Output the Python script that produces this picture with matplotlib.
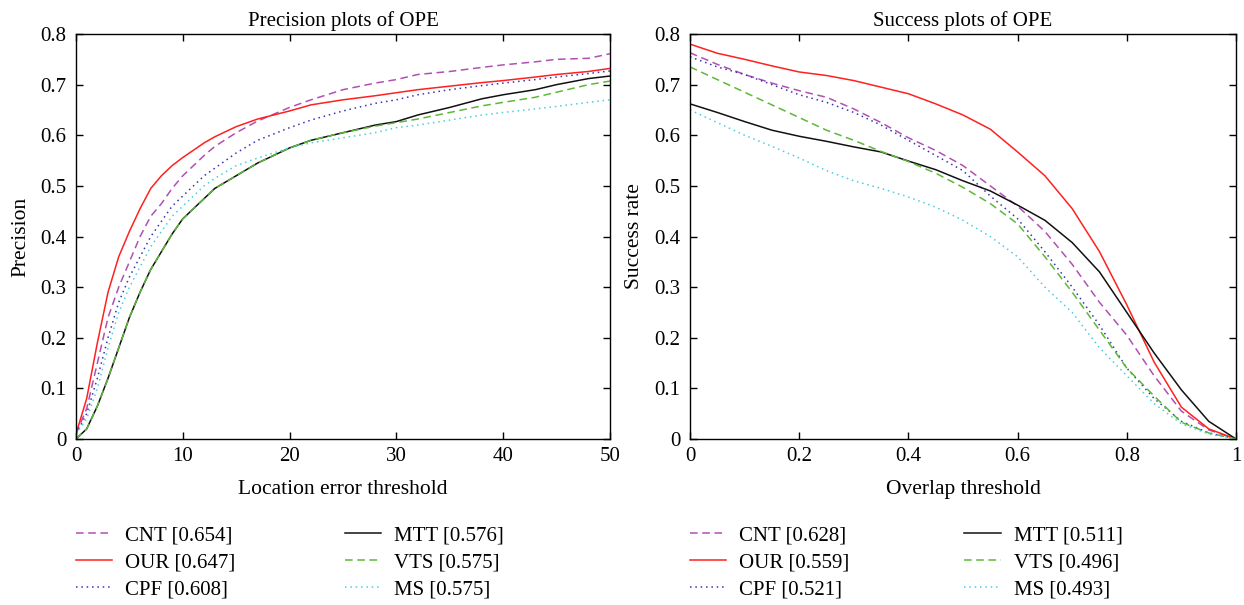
import numpy as np
import matplotlib
matplotlib.use("Agg")
import matplotlib.pyplot as plt

plt.rcParams['font.family'] = ['Liberation Serif', 'DejaVu Serif']
plt.rcParams['mathtext.fontset'] = 'stix'

# ---- precision plot data (location error threshold, px) ----
prec_x = [0, 1, 2, 3, 4, 5, 6, 7, 8, 9, 10, 12, 13, 15, 17, 20, 22, 25, 28, 30, 32, 35, 38, 40, 43, 45, 48, 50]
prec_cnt = [0.01, 0.06, 0.15, 0.24, 0.30, 0.35, 0.40, 0.44, 0.465, 0.495, 0.52, 0.56, 0.578, 0.605, 0.628, 0.655,
            0.67, 0.69, 0.703, 0.71, 0.72, 0.726, 0.734, 0.739, 0.745, 0.75, 0.752, 0.761]
prec_our = [0.01, 0.08, 0.19, 0.29, 0.36, 0.41, 0.455, 0.495, 0.52, 0.54, 0.556, 0.585, 0.597, 0.617, 0.632, 0.648,
            0.66, 0.67, 0.678, 0.684, 0.69, 0.697, 0.704, 0.708, 0.715, 0.72, 0.726, 0.732]
prec_cpf = [0.01, 0.05, 0.12, 0.20, 0.27, 0.32, 0.36, 0.40, 0.43, 0.46, 0.48, 0.52, 0.535, 0.565, 0.59, 0.615,
            0.63, 0.648, 0.663, 0.67, 0.68, 0.69, 0.698, 0.703, 0.71, 0.715, 0.722, 0.727]
prec_mtt = [0.0, 0.02, 0.065, 0.12, 0.18, 0.24, 0.29, 0.335, 0.37, 0.405, 0.435, 0.475, 0.495, 0.52, 0.545, 0.575,
            0.59, 0.605, 0.62, 0.627, 0.64, 0.655, 0.672, 0.68, 0.69, 0.70, 0.712, 0.717]
prec_vts = [0.0, 0.02, 0.065, 0.12, 0.18, 0.24, 0.29, 0.335, 0.37, 0.405, 0.435, 0.475, 0.495, 0.52, 0.545, 0.575,
            0.59, 0.605, 0.618, 0.625, 0.632, 0.645, 0.658, 0.665, 0.675, 0.685, 0.70, 0.707]
prec_ms = [0.01, 0.04, 0.10, 0.18, 0.25, 0.30, 0.34, 0.38, 0.41, 0.44, 0.46, 0.50, 0.515, 0.54, 0.555, 0.575,
           0.585, 0.595, 0.605, 0.615, 0.62, 0.63, 0.64, 0.645, 0.652, 0.657, 0.665, 0.67]

# ---- success plot data (overlap threshold) ----
succ_x = [0, 0.05, 0.1, 0.15, 0.2, 0.25, 0.3, 0.35, 0.4, 0.45, 0.5, 0.55, 0.6, 0.65, 0.7, 0.75, 0.8, 0.85, 0.9, 0.95, 1.0]
succ_cnt = [0.763, 0.74, 0.72, 0.703, 0.688, 0.675, 0.652, 0.625, 0.595, 0.57, 0.54, 0.50, 0.46, 0.41, 0.345,
            0.27, 0.205, 0.125, 0.055, 0.018, 0.0]
succ_our = [0.78, 0.762, 0.75, 0.737, 0.725, 0.718, 0.708, 0.695, 0.682, 0.662, 0.64, 0.612, 0.567, 0.52, 0.455,
            0.37, 0.265, 0.152, 0.063, 0.02, 0.0]
succ_cpf = [0.755, 0.735, 0.72, 0.70, 0.68, 0.665, 0.645, 0.62, 0.59, 0.56, 0.53, 0.48, 0.435, 0.37, 0.30,
            0.225, 0.14, 0.08, 0.035, 0.012, 0.0]
succ_mtt = [0.662, 0.645, 0.627, 0.61, 0.598, 0.588, 0.577, 0.567, 0.549, 0.532, 0.51, 0.49, 0.462, 0.432, 0.388,
            0.33, 0.25, 0.17, 0.097, 0.035, 0.0]
succ_vts = [0.735, 0.71, 0.685, 0.66, 0.635, 0.61, 0.59, 0.568, 0.548, 0.525, 0.497, 0.465, 0.425, 0.36, 0.29,
            0.215, 0.14, 0.085, 0.033, 0.012, 0.0]
succ_ms = [0.65, 0.625, 0.60, 0.578, 0.555, 0.53, 0.51, 0.495, 0.478, 0.458, 0.432, 0.40, 0.36, 0.30, 0.25,
           0.18, 0.125, 0.07, 0.03, 0.01, 0.0]

prec_labels = ['CNT [0.654]', 'OUR [0.647]', 'CPF [0.608]', 'MTT [0.576]', 'VTS [0.575]', 'MS [0.575]']
succ_labels = ['CNT [0.628]', 'OUR [0.559]', 'CPF [0.521]', 'MTT [0.511]', 'VTS [0.496]', 'MS [0.493]']

styles = [
    dict(color='#b24fb4', linestyle=(0, (5, 3))),
    dict(color='#ff2020', linestyle='-'),
    dict(color='#3535b5', linestyle=(0, (1, 2.5))),
    dict(color='#111111', linestyle='-'),
    dict(color='#5cb838', linestyle=(0, (5, 3))),
    dict(color='#45d0e2', linestyle=(0, (1, 2.5))),
]

fig = plt.figure(figsize=(12.44, 6.05), dpi=100)
ax1 = fig.add_axes([76 / 1244, 166 / 605, 534 / 1244, 405 / 605])
ax2 = fig.add_axes([690 / 1244, 166 / 605, 546 / 1244, 405 / 605])


def draw(ax, x, series, labels, xlim, xticks, xticklabels, title, xlabel, ylabel, leg_x, colsp):
    for ys, lab, st in zip(series, labels, styles):
        ax.plot(x, ys, lw=1.1, label=lab, **st)
    ax.set_xlim(*xlim)
    ax.set_ylim(0, 0.8)
    ax.set_xticks(xticks)
    ax.set_xticklabels(xticklabels)
    ax.set_yticks(np.arange(0, 0.81, 0.1))
    ax.set_yticklabels(['0', '0.1', '0.2', '0.3', '0.4', '0.5', '0.6', '0.7', '0.8'])
    ax.tick_params(direction='in', top=True, right=True, labelsize=15, length=5, width=1.0)
    ax.tick_params(axis='x', pad=6)
    ax.tick_params(axis='y', pad=7)
    for sp in ax.spines.values():
        sp.set_linewidth(1.0)
    ax.set_title(title, fontsize=15, pad=6)
    ax.set_xlabel(xlabel, fontsize=15.5, labelpad=10)
    ax.set_ylabel(ylabel, fontsize=15.5, labelpad=7)
    ax.legend(loc='upper left', bbox_to_anchor=(leg_x, 0.131), bbox_transform=fig.transFigure,
              ncol=2, frameon=False, fontsize=15, handlelength=1.75, handletextpad=0.62,
              columnspacing=colsp, labelspacing=0.36, borderpad=0, borderaxespad=0)


draw(ax1, prec_x, [prec_cnt, prec_our, prec_cpf, prec_mtt, prec_vts, prec_ms], prec_labels,
     (0, 50), [0, 10, 20, 30, 40, 50], ['0', '10', '20', '30', '40', '50'],
     'Precision plots of OPE', 'Location error threshold', 'Precision', 76 / 1244, 5.25)
draw(ax2, succ_x, [succ_cnt, succ_our, succ_cpf, succ_mtt, succ_vts, succ_ms], succ_labels,
     (0, 1), [0, 0.2, 0.4, 0.6, 0.8, 1.0], ['0', '0.2', '0.4', '0.6', '0.8', '1'],
     'Success plots of OPE', 'Overlap threshold', 'Success rate', 690 / 1244, 5.5)

fig.savefig('out.png', dpi=100)
